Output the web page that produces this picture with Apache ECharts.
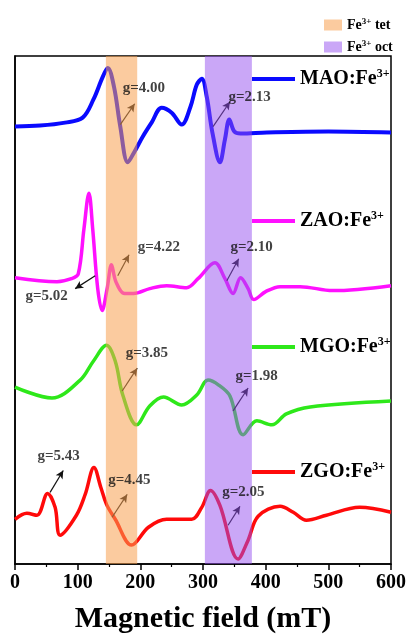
<!DOCTYPE html>
<html>
<head>
<meta charset="utf-8">
<script src="https://cdn.jsdelivr.net/npm/echarts@6/dist/echarts.min.js"></script>
<style>
  html, body { margin: 0; padding: 0; background: #fff; }
  #chart { width: 410px; height: 639px; }
</style>
</head>
<body>
<div id="chart"></div>
<script>
// EPR spectra, x = magnetic field (mT), y = signal (a.u., traces stacked with offset)
const maoX = [0, 40, 80, 108, 125, 140, 148, 158, 168, 180, 190, 204, 218, 234, 250, 266, 280, 290, 298, 306, 315, 327, 335, 342, 350, 360, 402, 500, 600];
const maoY = [440, 441, 444, 449, 467, 490, 499, 480, 440, 404, 414, 430, 444, 459, 454, 442, 460, 482, 488, 470, 434, 404, 427, 447, 435, 433, 434, 435, 434];

const zaoX = [0, 67, 90, 101, 110, 118, 124, 132, 139, 147, 154, 161, 175, 189, 215, 242, 274, 292, 319, 335, 348, 360, 372, 381, 400, 423, 455, 507, 600];
const zaoY = [288, 284, 287, 292, 337, 373, 337, 277, 255, 277, 301, 284, 272, 272, 277, 280, 278, 287, 303, 287, 272, 288, 277, 266, 274, 279, 279, 275, 280];

const mgoX = [0, 59, 104, 125, 146, 160, 172, 194, 215, 237, 266, 290, 308, 325, 343, 364, 386, 410, 433, 471, 600];
const mgoY = [178, 167, 185, 204, 220, 204, 170, 140, 159, 168, 160, 170, 185, 180, 169, 130, 144, 140, 151, 158, 164];

const zgoX = [0, 19, 35, 52, 64, 72, 98, 112, 126, 137, 146, 160, 186, 213, 242, 282, 298, 312, 327, 356, 372, 388, 423, 444, 465, 497, 550, 600];
const zgoY = [45, 51, 49, 71, 57, 29, 49, 70, 97, 77, 60, 45, 19, 37, 45, 45, 57, 74, 59, 5, 24, 48, 58, 52, 44, 49, 57, 52];

// highlighted field ranges (mT)
const tetRange = [145, 195];
const octRange = [303, 378];

// g-value notes: label, label anchor [mT, y], arrow start, arrow end
const noteText = ['g=4.00', 'g=2.13', 'g=5.02', 'g=4.22', 'g=2.10', 'g=3.85', 'g=1.98', 'g=5.43', 'g=4.45', 'g=2.05'];
const noteAt = [[171, 479], [340, 470], [16, 269], [195, 319], [343, 319], [176, 212], [351, 189], [35, 109], [148, 84], [330, 72]];
const arrowFrom = [[168, 442], [316, 440], [128, 290], [164, 290], [338, 285], [171, 174], [348, 154], [56, 72], [155, 47], [340, 39]];
const arrowTo = [[191, 463], [343, 465], [96, 277], [182, 311], [357, 307], [195, 197], [372, 177], [77, 94], [179, 70], [359, 58]];

const serif = '"Liberation Serif", "Times New Roman", serif';
const zip = (xs, ys) => xs.map((x, i) => [x, ys[i]]);

function spectrum(name, xs, ys, color, width) {
  return {
    name: name,
    type: 'line',
    data: zip(xs, ys),
    smooth: 0.35,
    symbol: 'none',
    z: 2,
    color: color,
    lineStyle: { color: color, width: width },
  };
}

// 色带画在曲线上面（半透明）
function band(name, range, color) {
  return {
    name: name,
    type: 'line',
    data: [],
    z: 10,
    zlevel: 0,
    color: color,
    markArea: {
      silent: true,
      z: 10,
      itemStyle: { color: color },
      data: [[{ xAxis: range[0] }, { xAxis: range[1] }]],
    },
  };
}

const supRich = (big, small) => ({
  a: { fontFamily: serif, fontWeight: 'bold', fontSize: big, color: '#000' },
  s: { fontFamily: serif, fontWeight: 'bold', fontSize: small, color: '#000', padding: [0, 0, big * 0.5, 0] },
});
const supFmt = name => '{a|' + name.replace('3+', '') + '}{s|3+}';

function seriesLegend(name, top) {
  return {
    data: [name],
    left: 247,
    top: top,
    icon: 'rect',
    itemWidth: 43,
    itemHeight: 4,
    selectedMode: false,
    formatter: supFmt,
    textStyle: { rich: supRich(20, 12) },
  };
}

const chart = echarts.init(document.getElementById('chart'));

const option = {
  animation: false,
  backgroundColor: '#fff',
  grid: {
    left: 15, right: 19, top: 56, bottom: 72,
    show: true, borderColor: '#000', borderWidth: 1.5,
  },
  legend: [
    {
      data: ['Fe3+ tet', 'Fe3+ oct'].map(n => ({ name: n })),
      orient: 'vertical',
      left: 319,
      top: 12,
      icon: 'rect',
      itemWidth: 18,
      itemHeight: 11,
      itemGap: 7,
      selectedMode: false,
      formatter: name => '{a|Fe}{s|3+}{a| ' + name.split(' ')[1] + '}',
      textStyle: { rich: supRich(14, 9) },
    },
    seriesLegend('MAO:Fe3+', 63),
    seriesLegend('ZAO:Fe3+', 205),
    seriesLegend('MGO:Fe3+', 331),
    seriesLegend('ZGO:Fe3+', 456),
  ],
  xAxis: {
    type: 'value',
    min: 0,
    max: 600,
    interval: 100,
    name: 'Magnetic field (mT)',
    nameLocation: 'middle',
    nameGap: 40,
    nameTextStyle: { fontFamily: serif, fontWeight: 'bold', fontSize: 30, color: '#000' },
    axisLine: { show: true, lineStyle: { color: '#000', width: 1.5 } },
    axisTick: { show: true, inside: false, length: 6, lineStyle: { color: '#000', width: 1.5 } },
    minorTick: { show: true, splitNumber: 2, length: 3, lineStyle: { color: '#000', width: 1.2 } },
    axisLabel: { margin: 9, fontFamily: serif, fontWeight: 'bold', fontSize: 20, color: '#000' },
    splitLine: { show: false },
  },
  yAxis: {
    type: 'value',
    min: 0,
    max: 511,
    axisLine: { show: true, lineStyle: { color: '#000', width: 1.5 } },
    axisTick: { show: false },
    axisLabel: { show: false },
    splitLine: { show: false },
  },
  series: [
    spectrum('MAO:Fe3+', maoX, maoY, '#0a0aff', 4),
    spectrum('ZAO:Fe3+', zaoX, zaoY, '#ff10ff', 3.5),
    spectrum('MGO:Fe3+', mgoX, mgoY, '#2ee81a', 3.5),
    spectrum('ZGO:Fe3+', zgoX, zgoY, '#ff0a0a', 3.5),
    band('Fe3+ tet', tetRange, 'rgba(247,160,80,0.55)'),
    band('Fe3+ oct', octRange, 'rgba(150,80,240,0.5)'),
    {
      name: 'notes',
      type: 'scatter',
      z: 12,
      symbolSize: 1,
      itemStyle: { color: 'rgba(0,0,0,0)' },
      silent: true,
      data: noteAt.map((p, i) => [p[0], p[1], noteText[i]]),
      label: {
        show: true,
        position: 'right',
        distance: 0,
        formatter: p => p.data[2],
        fontFamily: serif,
        fontWeight: 'bold',
        fontSize: 15,
        color: '#111',
      },
      markLine: {
        silent: true,
        symbol: ['none', 'arrow'],
        symbolSize: [6, 8],
        label: { show: false },
        lineStyle: { color: '#111', width: 1.2, type: 'solid' },
        data: arrowFrom.map((p, i) => [{ coord: p }, { coord: arrowTo[i] }]),
      },
    },
  ],
};

chart.setOption(option);
</script>
</body>
</html>
